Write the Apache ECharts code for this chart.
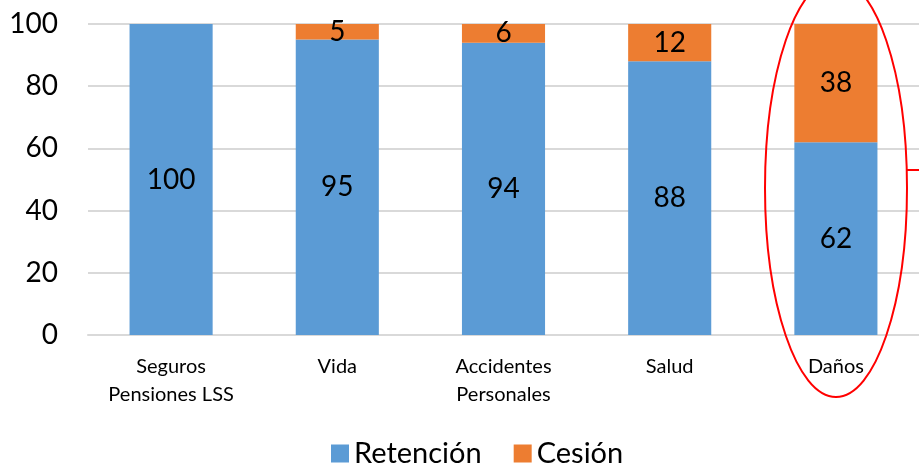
<!DOCTYPE html>
<html>
<head>
<meta charset="utf-8">
<script src="https://cdn.jsdelivr.net/npm/echarts@6/dist/echarts.min.js"></script>
<style>
  html, body { margin: 0; padding: 0; background: #fff; }
  #chart { width: 919px; height: 465px; }
</style>
</head>
<body>
<div id="chart"></div>
<script>
// categorias y valores (%)
const categorias = ['Seguros\nPensiones LSS', 'Vida', 'Accidentes\nPersonales', 'Salud', 'Daños']
const retencion = [100, 95, 94, 88, 62]
const cesion = [0, 5, 6, 12, 38]

const fuente = 'Lato, "Open Sans", sans-serif'

const myChart = echarts.init(document.getElementById('chart'))

const labelOps = {
  show: true,
  position: 'inside',
  color: '#000',
  fontSize: 28,
  fontFamily: fuente,
  formatter: p => (p.value ? p.value : '')
}

myChart.setOption({
  animation: false,
  grid: { left: 88, right: -8, top: 24, bottom: 130, containLabel: false },
  legend: {
    left: 326,
    bottom: -8,
    itemWidth: 18,
    itemHeight: 18,
    itemGap: 32,
    icon: 'rect',
    textStyle: { fontSize: 29, fontFamily: fuente, color: '#000' },
    data: ['Retención', 'Cesión']
  },
  xAxis: {
    type: 'category',
    data: categorias,
    axisTick: { show: false },
    axisLine: { lineStyle: { color: '#d9d9d9', width: 2 } },
    axisLabel: { fontSize: 20, fontFamily: fuente, color: '#000', margin: 18, lineHeight: 28 }
  },
  yAxis: {
    type: 'value',
    min: 0,
    max: 100,
    interval: 20,
    axisLabel: { fontSize: 28, fontFamily: fuente, color: '#000', margin: 30 },
    splitLine: { lineStyle: { color: '#d9d9d9', width: 2 } }
  },
  series: [
    {
      name: 'Retención',
      type: 'bar',
      stack: 'total',
      barWidth: '50%',
      itemStyle: { color: '#5b9bd5' },
      label: labelOps,
      data: retencion
    },
    {
      name: 'Cesión',
      type: 'bar',
      stack: 'total',
      barWidth: '50%',
      itemStyle: { color: '#ed7d31' },
      label: labelOps,
      data: cesion
    }
  ],
  graphic: [
    {
      type: 'ellipse',
      shape: { cx: 836, cy: 188, rx: 71, ry: 209 },
      style: { fill: 'none', stroke: '#ff0000', lineWidth: 2 },
      z: 100
    },
    {
      type: 'line',
      shape: { x1: 907, y1: 170, x2: 919, y2: 170 },
      style: { stroke: '#ff0000', lineWidth: 2 },
      z: 100
    }
  ]
})

window.addEventListener('resize', () => {
  myChart && myChart.resize()
})
</script>
</body>
</html>
